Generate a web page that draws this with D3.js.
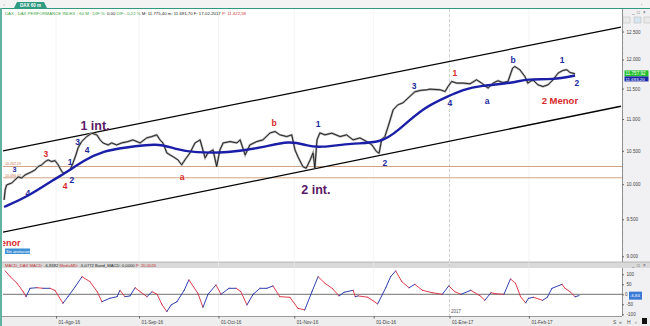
<!DOCTYPE html>
<html><head><meta charset="utf-8">
<script src="https://cdn.jsdelivr.net/npm/d3@7"></script>
<style>
html,body{margin:0;padding:0;background:#fff;}
svg{display:block;font-family:"Liberation Sans",Arial,sans-serif;}
</style></head>
<body><svg id="c" width="650" height="326"></svg>
<script>
// ---------- DATA ----------
// x values are trading-day indexes (0 = 01-Ago-16)
const monthTickDays = [0, 23, 45, 66, 88, 109, 131];
const monthTickLabels = ["01-Ago-16","01-Sep-16","01-Oct-16","01-Nov-16","01-Dic-16","01-Ene-17","01-Feb-17"];
const yearSepDay = 109;
const priceTicks = [9000, 9500, 10000, 10500, 11000, 11500, 12000, 12500];
const priceTickLabels = ["9.000","9.500","10.000","10.500","11.000","11.500","12.000","12.500"];
const macdTicks = [-100, -50, 0, 50, 100];
const macdTickLabels = ["-100","-50","0","50","100"];

const priceDays = [-14.4,-14.1,-13.7,-12.3,-11.4,-10.5,-9.5,-8.6,-6.7,-5.8,-5.0,-4.0,-3.0,-2.2,-1.2,-0.3,0.6,1.6,2.2,3.0,3.9,4.7,5.5,6.1,7.1,8.5,9.9,11.3,12.2,13.0,14.4,15.4,16.8,18.2,19.9,21.3,23.3,25.1,26.5,27.9,28.8,29.6,30.7,31.6,32.4,33.8,34.8,35.7,37.1,38.5,39.9,41.3,42.1,43.5,44.5,45.4,46.3,48.2,50.1,51.0,52.4,53.7,55.6,57.3,59.3,60.7,62.0,63.9,65.3,66.2,67.0,68.4,69.3,70.4,71.2,71.7,72.3,73.1,74.5,76.4,78.7,80.5,82.3,84.2,86.1,87.5,88.8,89.5,90.2,91.1,92.0,93.4,94.7,96.1,97.5,99.4,101.0,102.8,103.6,106.4,107.8,108.6,109.6,111.0,112.7,114.7,116.5,117.9,119.7,121.1,122.4,123.8,125.2,126.5,127.1,128.5,129.9,130.7,132.1,133.5,134.9,136.3,137.7,139.1,140.4,141.5,142.4,143.8];
const priceClose = [9772,9916,9989,10018,10062,10107,10092,10136,10185,10211,10260,10286,10336,10361,10336,10351,10286,10185,10161,10185,10211,10316,10437,10545,10643,10721,10774,10748,10669,10622,10591,10622,10591,10622,10643,10669,10622,10700,10721,10748,10669,10622,10468,10437,10411,10361,10286,10361,10468,10622,10669,10392,10468,10514,10260,10514,10622,10643,10622,10669,10437,10591,10643,10669,10779,10800,10748,10721,10748,10514,10411,10260,10236,10361,10468,10236,10669,10779,10748,10774,10721,10748,10669,10700,10643,10591,10488,10463,10669,10721,10879,11148,11230,11263,11340,11446,11470,11480,11491,11480,11451,11535,11620,11593,11593,11581,11649,11593,11508,11593,11632,11603,11620,11850,11878,11821,11705,11593,11649,11564,11535,11564,11649,11764,11809,11821,11774,11752];

const maDays = [-14.4,-7.5,-0.6,2.8,7.5,13.3,18.8,28.3,32.7,38.5,47.6,56.8,64.8,69.5,72.9,82.0,90.0,94.7,101.7,108.6,112.7,117.5,126.6,130.5,137.7,143.8];
const maValues = [9672,9830,10070,10170,10350,10500,10546,10620,10530,10470,10470,10546,10660,10580,10546,10620,10620,10810,11181,11370,11480,11550,11593,11668,11649,11722];

const macdDays = [-14.1,-12.7,-10.8,-9.1,-8.3,-7.2,-5.3,-3.6,-1.7,-0.3,1.9,3.3,5.3,7.2,9.4,11.4,12.7,14.9,16.9,17.7,19.1,20.5,21.9,23.3,25.2,26.6,28.0,29.4,30.7,31.9,33.5,35.5,36.8,39.3,40.7,42.1,44.3,45.7,47.9,49.9,51.2,52.9,54.6,56.5,58.4,60.1,62.0,64.8,67.0,68.9,70.9,72.6,74.5,76.5,78.4,79.8,82.3,82.9,83.7,86.4,89.1,91.4,92.7,94.1,95.8,97.8,99.4,101.5,104.2,107.0,108.8,110.5,112.2,114.9,117.5,118.8,120.5,121.6,124.1,125.9,127.3,128.7,130.1,130.9,132.3,134.8,136.1,137.4,140.2,141.0,142.4,143.8,144.9];
const macdValues = [117,88,55,13,-12,30,33,30,30,20,-45,-12,38,88,63,13,-37,-20,-12,20,-12,-8,33,13,-12,13,0,-53,-87,-53,-37,20,72,5,-65,0,47,0,30,30,13,-53,0,30,30,42,-12,-15,-70,-78,13,88,55,30,-8,10,20,-12,-8,-15,-48,35,88,117,63,33,50,20,8,0,42,13,0,20,-8,-30,8,3,0,77,55,-12,-43,-20,-15,-30,-15,30,50,30,13,-12,-6.8];

const channelUpper = [[-14.7, 10500],[156.5, 12582]];
const channelLower = [[-14.7, 9322],[156.5, 11207]];
const hLevels = [10262.19, 10094.07];
const hLevelLabels = ["10.262,19","10.094,07"];

const waveLabels = [
  {t:"3",d:-11.5,p:10218,c:"blue"},{t:"4",d:-7.8,p:9873,c:"blue"},
  {t:"3",d:-2.8,p:10451,c:"red"},{t:"1",d:3.9,p:10330,c:"blue"},
  {t:"2",d:4.4,p:10061,c:"blue"},{t:"4",d:2.5,p:9973,c:"red"},
  {t:"3",d:6.0,p:10637,c:"blue"},{t:"4",d:8.6,p:10513,c:"blue"},
  {t:"a",d:34.9,p:10105,c:"red"},{t:"b",d:60.4,p:10938,c:"red"},
  {t:"1",d:72.6,p:10922,c:"blue"},{t:"2",d:91.1,p:10315,c:"blue"},
  {t:"3",d:99.2,p:11546,c:"blue"},{t:"4",d:109.1,p:11262,c:"blue"},
  {t:"1",d:110.5,p:11767,c:"red"},{t:"a",d:119.4,p:11295,c:"blue"},
  {t:"b",d:126.6,p:11994,c:"blue"},{t:"1",d:140.2,p:11994,c:"blue"},
  {t:"2",d:144.3,p:11597,c:"blue"}
];
const bigLabels = [
  {t:"1 int.",d:10.8,p:10889,c:"purple",s:12.5},
  {t:"2 int.",d:72.0,p:9930,c:"purple",s:12.5},
  {t:"2 Menor",d:139.6,p:11295,c:"red",s:9.5}
];
const headerParts = [
  {t:"DAX - DAX PERFORMANCE INDEX · 60 M · DIF %: ",c:"#3aa33a"},
  {t:"0,00 ",c:"#222"},{t:"DIF: -0,22 % ",c:"#3aa33a"},
  {t:"M: 11.775,40 ",c:"#222"},{t:"m: 11.691,70 ",c:"#222"},
  {t:"F: 17-02-2017 ",c:"#222"},{t:"P: 11.422,58",c:"#d03030"}
];
const macdHeader = [
  {t:"MACD_DAX MACD: ",c:"#c03030"},{t:"-6,8382 ",c:"#222"},
  {t:"MediaMD: ",c:"#c03030"},{t:"-5,0772 ",c:"#222"},
  {t:"Band_MACD: ",c:"#222"},{t:"0,0000 ",c:"#222"},{t:"P: 20,0026",c:"#c03030"}
];
const lastPrice = 11757.92, lastPriceLabel = "11.757,92", lastMALabel = "11.693,20";
const lastMacd = -6.84, lastMacdLabel = "-6,84";

// ---------- LAYOUT ----------
const svg = d3.select("#c");
const L = 3, R = 622, mainTop = 9, mainBot = 262, macdTop = 268, macdBot = 316;
const COL = {blue:"#1b2a9e", red:"#d62828", purple:"#5b1766"};

const x = d3.scaleLinear().domain([-14.7, 156.8]).range([L, R]);
const y = d3.scaleLog().domain([8925, 12919]).range([mainBot, mainTop]);
const ym = d3.scaleLinear().domain([-108.5, 131.5]).range([macdBot, macdTop]);

// backgrounds
svg.append("rect").attr("x",0).attr("y",0).attr("width",650).attr("height",326).attr("fill","#fff");
svg.append("rect").attr("x",0).attr("y",0).attr("width",650).attr("height",8).attr("fill","#f3f3f3");
svg.append("line").attr("x1",0).attr("x2",650).attr("y1",8.5).attr("y2",8.5).attr("stroke","#2f9a80").attr("stroke-width",1);
svg.append("path").attr("d","M14,8 L17,2 L44,2 L47,8 Z").attr("fill","#2f9a80");
svg.append("text").attr("x",30.5).attr("y",7).attr("text-anchor","middle").attr("font-size",4.5).attr("font-weight","bold").attr("fill","#fff").text("DAX 60 m");
svg.append("text").attr("x",3).attr("y",6).attr("font-size",4).attr("fill","#777").text("↕");
svg.append("text").attr("x",641).attr("y",6).attr("font-size",4).attr("fill","#777").text("›");
svg.append("rect").attr("x",0).attr("y",8).attr("width",2).attr("height",318).attr("fill","#5fb3a0");
svg.append("rect").attr("x",R).attr("y",9).attr("width",650-R).attr("height",253).attr("fill","#f1f1f3");
svg.append("rect").attr("x",R).attr("y",macdTop).attr("width",650-R).attr("height",macdBot-macdTop).attr("fill","#f1f1f3");
svg.append("line").attr("x1",R+0.5).attr("x2",R+0.5).attr("y1",9).attr("y2",macdBot).attr("stroke","#666").attr("stroke-width",0.7);
svg.append("rect").attr("x",2).attr("y",262).attr("width",648).attr("height",6).attr("fill","#d9d9d9");
svg.append("line").attr("x1",2).attr("x2",650).attr("y1",262).attr("y2",262).attr("stroke","#999").attr("stroke-width",0.6);
svg.append("rect").attr("x",2).attr("y",macdBot).attr("width",648).attr("height",10).attr("fill","#eeeeee");
svg.append("line").attr("x1",2).attr("x2",R).attr("y1",macdBot+0.5).attr("y2",macdBot+0.5).attr("stroke","#777").attr("stroke-width",0.7);

// vertical grid
monthTickDays.forEach(d=>{
  svg.append("line").attr("x1",x(d)).attr("x2",x(d)).attr("y1",mainTop).attr("y2",macdBot).attr("stroke","#ececec").attr("stroke-width",0.6);
});
svg.append("line").attr("x1",x(yearSepDay)).attr("x2",x(yearSepDay)).attr("y1",mainTop).attr("y2",macdBot)
  .attr("stroke","#c8c8c8").attr("stroke-width",0.8).attr("stroke-dasharray","3,2");
svg.append("text").attr("x",x(yearSepDay)+1.5).attr("y",313).attr("font-size",4.5).attr("fill","#555").text("2017");

// header text
const ht = svg.append("text").attr("x",5).attr("y",15).attr("font-size",4.3);
headerParts.forEach(p=>ht.append("tspan").attr("fill",p.c).text(p.t));
const mh = svg.append("text").attr("x",5).attr("y",266.6).attr("font-size",4.2);
macdHeader.forEach(p=>mh.append("tspan").attr("fill",p.c).text(p.t));
[["_",632],["□",637],["×",643]].forEach(b=>{
  svg.append("text").attr("x",b[1]).attr("y",13.5).attr("font-size",4.5).attr("fill","#555").text(b[0]);
  svg.append("text").attr("x",b[1]).attr("y",266.8).attr("font-size",4.5).attr("fill","#555").text(b[0]);
});
[615,626,636].forEach((bx,i)=>{
  svg.append("rect").attr("x",bx+8).attr("y",17).attr("width",7).attr("height",6).attr("fill",i==1?"#d8e6f2":"#eaeaea").attr("stroke","#aaa").attr("stroke-width",0.4);
});

// price axis
const ya = d3.axisRight(y).tickValues(priceTicks).tickFormat((d,i)=>priceTickLabels[i]).tickSize(2);
const gy = svg.append("g").attr("transform",`translate(${R},0)`).call(ya);
gy.select(".domain").remove();
gy.selectAll("text").attr("font-size",4.6).attr("fill","#444").attr("x",4.5);
gy.selectAll("line").attr("stroke","#666");
d3.range(9000,12900,100).forEach(v=>{
  svg.append("line").attr("x1",R).attr("x2",R+1.2).attr("y1",y(v)).attr("y2",y(v)).attr("stroke","#888").attr("stroke-width",0.5);
});
// macd axis
const yma = d3.axisRight(ym).tickValues(macdTicks).tickFormat((d,i)=>macdTickLabels[i]).tickSize(2);
const gm = svg.append("g").attr("transform",`translate(${R},0)`).call(yma);
gm.select(".domain").remove();
gm.selectAll("text").attr("font-size",4.6).attr("fill","#444").attr("x",d=>d===0?3:4.5);
gm.selectAll("line").attr("stroke","#666");
// x axis
const xa = d3.axisBottom(x).tickValues(monthTickDays).tickFormat((d,i)=>monthTickLabels[i]).tickSize(2.5);
const gx = svg.append("g").attr("transform",`translate(0,${macdBot})`).call(xa);
gx.select(".domain").remove();
gx.selectAll("text").attr("font-size",4.6).attr("fill","#444").attr("text-anchor","start").attr("x",2).attr("dy","0.5em");
gx.selectAll("line").attr("stroke","#666");

// clip main
svg.append("clipPath").attr("id","mc").append("rect").attr("x",L).attr("y",mainTop).attr("width",R-L).attr("height",mainBot-mainTop);
const main = svg.append("g").attr("clip-path","url(#mc)");

hLevels.forEach((v,i)=>{
  main.append("line").attr("x1",L).attr("x2",R).attr("y1",y(v)).attr("y2",y(v)).attr("stroke","#c99a77").attr("stroke-width",0.9);
  main.append("text").attr("x",5).attr("y",y(v)-(i===0?1.2:0.6)).attr("font-size",3.6).attr("fill","#c0703a").text(hLevelLabels[i]);
});
[channelUpper, channelLower].forEach(c=>{
  main.append("line").attr("x1",x(c[0][0])).attr("y1",y(c[0][1])).attr("x2",x(c[1][0])).attr("y2",y(c[1][1]))
    .attr("stroke","#000").attr("stroke-width",1.3);
});
const pts = priceDays.map((d,i)=>[d,priceClose[i]]);
const pl = d3.line().x(d=>x(d[0])).y(d=>y(d[1]));
main.append("path").attr("d",pl(pts)).attr("fill","none").attr("stroke","#a8a8a8").attr("stroke-width",2.2);
main.append("path").attr("d",pl(pts)).attr("fill","none").attr("stroke","#111").attr("stroke-width",0.85);
const ma = maDays.map((d,i)=>[d,maValues[i]]);
main.append("path").attr("d",d3.line().x(d=>x(d[0])).y(d=>y(d[1])).curve(d3.curveBasis)(ma))
  .attr("fill","none").attr("stroke","#1b1fa8").attr("stroke-width",2.4);

waveLabels.forEach((w,i)=>{
  main.append("text").attr("x",x(w.d)).attr("y",y(w.p)).attr("dy","0.34em").attr("text-anchor","middle")
    .attr("font-size",i===0?7.2:8.5).attr("font-weight","bold").attr("fill",COL[w.c]).text(w.t);
});
bigLabels.forEach(w=>{
  main.append("text").attr("x",x(w.d)).attr("y",y(w.p)).attr("dy","0.36em").attr("text-anchor","middle")
    .attr("font-size",w.s).attr("font-weight","bold").attr("fill",COL[w.c]).text(w.t);
});
main.append("text").attr("x",1).attr("y",246).attr("font-size",9).attr("font-weight","bold").attr("fill",COL.red).text("enor");
main.append("rect").attr("x",5).attr("y",248.5).attr("width",25).attr("height",5.5).attr("fill","#3d8fd6");
main.append("text").attr("x",6).attr("y",252.8).attr("font-size",4).attr("fill","#fff").text("Sin anotaciones");

svg.append("rect").attr("x",R+2.5).attr("y",y(lastPrice)-3).attr("width",24).attr("height",6).attr("fill","#22c02a");
svg.append("text").attr("x",R+3.5).attr("y",y(lastPrice)+1.7).attr("font-size",4.6).attr("fill","#fff").text(lastPriceLabel);
svg.append("rect").attr("x",R+2.5).attr("y",y(lastPrice)+3).attr("width",24).attr("height",5).attr("fill","#1b2aa8");
svg.append("text").attr("x",R+3.5).attr("y",y(lastPrice)+7.2).attr("font-size",4.4).attr("fill","#fff").text(lastMALabel);

// MACD
svg.append("line").attr("x1",L).attr("x2",R).attr("y1",ym(0)).attr("y2",ym(0)).attr("stroke","#333").attr("stroke-width",0.7);
for(let i=1;i<macdDays.length;i++){
  const up = macdValues[i] >= macdValues[i-1];
  svg.append("line").attr("x1",x(macdDays[i-1])).attr("y1",ym(macdValues[i-1])).attr("x2",x(macdDays[i])).attr("y2",ym(macdValues[i]))
    .attr("stroke",up?"#1b2aa8":"#d8283a").attr("stroke-width",0.9).attr("stroke-linecap","round");
}
svg.append("rect").attr("x",R+7).attr("y",ym(lastMacd)-4).attr("width",13).attr("height",8).attr("fill","#3a7ad6");
svg.append("text").attr("x",R+8).attr("y",ym(lastMacd)+1.8).attr("font-size",4.4).attr("fill","#fff").text(lastMacdLabel);
[["S",613],["«",619],["H",627],["‹",635]].forEach(b=>{
  svg.append("text").attr("x",b[1]).attr("y",324).attr("font-size",5).attr("fill","#555").text(b[0]);
});
svg.append("rect").attr("x",642).attr("y",318).attr("width",5).attr("height",6).attr("fill","#111");
</script></body></html>
